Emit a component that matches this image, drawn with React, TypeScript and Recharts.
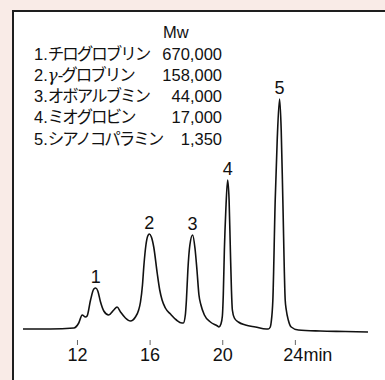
import { LineChart, Line, XAxis, YAxis, ReferenceDot } from 'recharts';

// retention time (min) and detector signal
const times = [
  9.0, 10.51, 11.8, 12.07, 12.26, 12.44, 12.53, 12.72, 12.9, 13.01, 13.12, 13.27, 13.45,
  13.72, 14.0, 14.18, 14.37, 14.64, 14.92, 15.19, 15.37, 15.47, 15.58, 15.66, 15.77, 15.87,
  15.96, 16.07, 16.2, 16.39, 16.53, 16.66, 16.84, 17.12, 17.45, 17.75, 17.83, 17.94, 18.0,
  18.08, 18.19, 18.34, 18.47, 18.58, 18.69, 18.8, 18.99, 19.32, 19.71, 19.79, 19.9, 19.98,
  20.03, 20.09, 20.17, 20.27, 20.35, 20.42, 20.48, 20.53, 20.64, 20.86, 21.25, 21.8, 22.4,
  22.51, 22.62, 22.67, 22.76, 22.89, 23.0, 23.13, 23.22, 23.31, 23.44, 23.5, 23.61, 23.77,
  24.16, 25.37, 26.75, 28.0,
];
const signal = [
  0, 0, 1, 6, 14, 12, 13, 29, 40, 41, 38, 27, 18,
  14, 19, 22, 17, 11, 8, 12, 19, 27, 44, 64, 84, 93,
  95, 92, 82, 56, 39, 29, 21, 15, 9, 6, 6, 14, 29,
  59, 84, 94, 81, 59, 34, 24, 14, 7, 3, 2, 5, 13,
  34, 79, 119, 149, 129, 79, 39, 19, 11, 7, 4, 2, 0,
  0, 2, 7, 29, 129, 189, 230, 199, 129, 29, 19, 9, 2,
  -1, -2, -2.5, -3,
];

const peakNames = ['1', '2', '3', '4', '5'];
const peakTimes = [13.01, 15.96, 18.34, 20.27, 23.13];
const peakHeights = [41, 95, 94, 149, 230];

const xTicks = [12, 16, 20, 24];
const xTickLabels = ['12', '16', '20', '24min'];

const proteinNo = ['1.', '2.', '3.', '4.', '5.'];
const proteinNames = ['チログロブリン', 'ー グロブリン', 'オボアルブミン', 'ミオグロビン', 'シアノコパラミン'];
const molWeights = ['670,000', '158,000', '44,000', '17,000', '1,350'];

const data = times.map((t, i) => ({ t, v: signal[i] }));

const font = '"Liberation Sans", Arial, "Noto Sans CJK JP", sans-serif';

const TimeTick = (props: any) => {
  const { x, y, payload, index } = props;
  const label = xTickLabels[index] ?? String(payload.value);
  const last = label.length > 2;
  return (
    <g>
      <line x1={x} x2={x} y1={y + 1} y2={y + 6} stroke="#666" strokeWidth={1} />
      <text
        x={last ? x - 12 : x}
        y={y + 16}
        textAnchor={last ? 'start' : 'middle'}
        dominantBaseline="central"
        fontSize={18}
        fontFamily={font}
        fill="#111"
      >
        {label}
      </text>
    </g>
  );
};

export default function App() {
  return (
    <div
      style={{
        position: 'fixed',
        left: 0,
        top: 0,
        width: 385,
        height: 380,
        overflow: 'hidden',
        background: '#f9ebe7',
        fontFamily: font,
        color: '#111',
      }}
    >
      <div
        style={{
          position: 'absolute',
          left: 12,
          top: 10,
          right: -10,
          bottom: -10,
          background: '#fff',
          borderLeft: '2px solid #1e1e1e',
          borderTop: '2px solid #1e1e1e',
        }}
      />
      <div style={{ position: 'absolute', left: 0, top: 0 }}>
        <LineChart width={385} height={380} data={data} margin={{ top: 89, right: 17, bottom: 11, left: 23 }}>
          <XAxis
            type="number"
            dataKey="t"
            domain={[9, 28]}
            ticks={xTicks}
            axisLine={false}
            tickLine={false}
            tickSize={0}
            tickMargin={0}
            height={30}
            tick={(p: any) => <TimeTick {...p} />}
          />
          <YAxis hide domain={[-10, 240]} />
          <Line
            type="monotone"
            dataKey="v"
            stroke="#111"
            strokeWidth={1.6}
            dot={false}
            isAnimationActive={false}
          />
          {peakNames.map((n, i) => (
            <ReferenceDot
              key={n}
              x={peakTimes[i]}
              y={peakHeights[i]}
              r={0}
              fill="none"
              stroke="none"
              label={{ value: n, position: 'top', offset: 5, fontSize: 18, fill: '#111', fontFamily: font }}
            />
          ))}
        </LineChart>
      </div>
      <div style={{ position: 'absolute', left: 163, top: 22, fontSize: 16.5, lineHeight: '21px' }}>Mw</div>
      {proteinNames.map((name, i) => (
        <div
          key={i}
          style={{
            position: 'absolute',
            left: 34,
            top: 43.5 + i * 21.25,
            width: 188,
            fontSize: 16.5,
            lineHeight: '21px',
            whiteSpace: 'nowrap',
          }}
        >
          <span>{proteinNo[i]}</span>
          {i === 1 ? (
            <span>
              <i style={{ fontFamily: '"DejaVu Serif", serif' }}>γ</i>
              <span style={{ letterSpacing: -2 }}>{name.replace('ー ', '-')}</span>
            </span>
          ) : (
            <span style={{ letterSpacing: -2 }}>{name}</span>
          )}
          <span style={{ position: 'absolute', right: 0, top: 0 }}>{molWeights[i]}</span>
        </div>
      ))}
    </div>
  );
}
